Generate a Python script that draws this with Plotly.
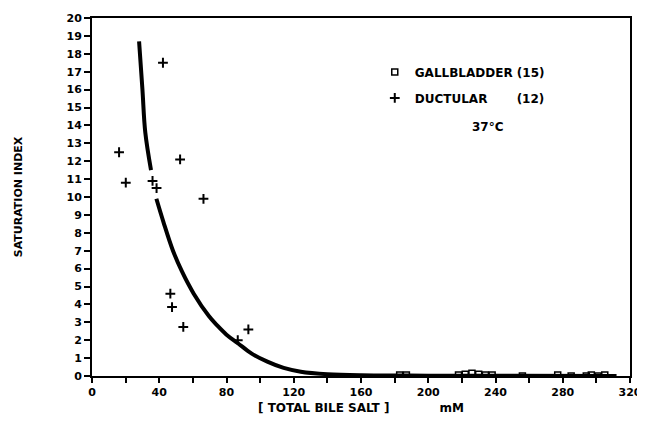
import plotly.graph_objects as go

# Ductular samples (+)
duct_x = [16.1, 20.1, 36.0, 38.4, 42.2, 52.4, 66.3, 46.6, 47.6, 54.3, 86.7, 93.0]
duct_y = [12.5, 10.8, 10.9, 10.5, 17.5, 12.1, 9.9, 4.6, 3.85, 2.74, 2.0, 2.6]

# Gallbladder samples (open squares)
gb_x = [183, 187, 218, 222, 226, 230, 234, 238, 256, 277, 285, 294, 297, 301, 305]
gb_y = [0.05, 0.05, 0.05, 0.1, 0.15, 0.1, 0.05, 0.05, 0.0, 0.05, 0.0, 0.0, 0.05, 0.0, 0.05]

# Fitted curve (gap where it passes the data points)
curve_x = [28, 30.0, 31.7, 35.1, None, 38.3, 42.5, 48, 53.5, 60.5, 69.5, 74.4, 80, 86.8,
           95, 104.3, 114, 124.2, 140, 160, 200, 250, 312]
curve_y = [18.7, 16.0, 13.6, 11.5, None, 9.9, 8.6, 7.04, 5.84, 4.6, 3.35, 2.83, 2.31, 1.83,
           1.25, 0.8, 0.45, 0.24, 0.1, 0.04, 0.02, 0.01, 0.0]

x_ticks = list(range(0, 321, 40))
y_ticks = list(range(0, 21, 1))

FONT = "DejaVu Sans"

fig = go.Figure()
fig.add_trace(go.Scatter(x=curve_x, y=curve_y, mode="lines",
                         line=dict(color="black", width=4, shape="spline", smoothing=1),
                         showlegend=False, connectgaps=False, hoverinfo="skip"))
fig.add_trace(go.Scatter(x=gb_x, y=gb_y, mode="markers", name="GALLBLADDER (15)",
                         legendgroup="g",
                         marker=dict(symbol="square-open", size=6, color="black",
                                     line=dict(color="black", width=1.5))))
fig.add_trace(go.Scatter(x=duct_x, y=duct_y, mode="markers",
                         name="DUCTULAR" + "&nbsp;" * 7 + "(12)",
                         legendgroup="d",
                         marker=dict(symbol="cross-thin", size=7, color="black",
                                     line=dict(color="black", width=2))))

fig.add_annotation(x=235.6, y=13.9, xref="x", yref="y", text="37°C", showarrow=False,
                   font=dict(family=FONT, size=12, color="black", weight="bold"))

fig.update_layout(
    width=637, height=418,
    margin=dict(l=84, r=15, t=10, b=50, autoexpand=False),
    paper_bgcolor="white", plot_bgcolor="white",
    font=dict(family=FONT, color="black"),
    legend=dict(x=0.5256, y=0.89, xanchor="left", yanchor="top",
                bgcolor="rgba(0,0,0,0)", tracegroupgap=7,
                font=dict(family=FONT, size=12, color="black", weight="bold")),
)
fig.update_xaxes(
    range=[0, 320], tickvals=x_ticks, ticks="outside", ticklen=5, tickwidth=1.5,
    tickcolor="black", showline=True, linecolor="black", linewidth=2, mirror=True,
    showgrid=False, zeroline=False, automargin=False,
    tickfont=dict(family=FONT, size=11, color="black", weight="bold"),
    minor=dict(dtick=20, tick0=0, ticks="outside", ticklen=5, tickwidth=1.5, tickcolor="black"),
    title=dict(text="[ TOTAL BILE SALT ]" + "&nbsp;" * 12 + "mM",
               font=dict(family=FONT, size=12, color="black", weight="bold"), standoff=5),
)
fig.update_yaxes(
    range=[0, 20], tickvals=y_ticks, ticks="outside", ticklen=6, tickwidth=1.5,
    tickcolor="black", showline=True, linecolor="black", linewidth=2, mirror=True,
    showgrid=False, zeroline=False, automargin=False,
    tickfont=dict(family=FONT, size=11, color="black", weight="bold"),
    title=dict(text="SATURATION INDEX",
               font=dict(family=FONT, size=11, color="black", weight="bold"), standoff=42),
)

fig.write_html("out.html")
